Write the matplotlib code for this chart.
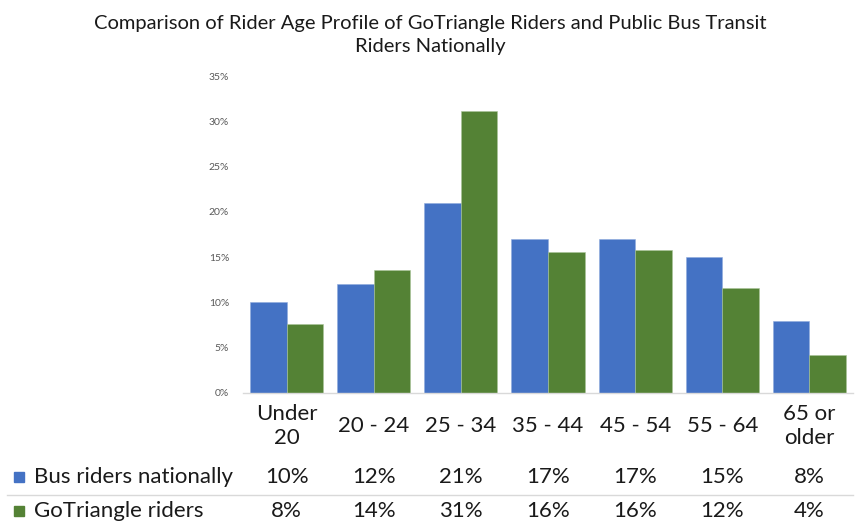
import matplotlib
matplotlib.use("Agg")
from matplotlib import pyplot as plt
from matplotlib.patches import Rectangle
from matplotlib.lines import Line2D
import numpy as np

# age groups and shares
categories = ["Under\n20", "20 - 24", "25 - 34", "35 - 44", "45 - 54", "55 - 64", "65 or\nolder"]
bus_national = [0.10, 0.12, 0.21, 0.17, 0.17, 0.15, 0.08]
gotriangle = [0.076, 0.136, 0.311, 0.156, 0.158, 0.116, 0.042]
series_names = ["Bus riders nationally", "GoTriangle riders"]
yticks = [0, 0.05, 0.10, 0.15, 0.20, 0.25, 0.30, 0.35]

blue = "#4472C4"
green = "#548235"
grey = "#D9D9D9"

plt.rcParams["font.family"] = ["Lato", "DejaVu Sans"]

fig = plt.figure(figsize=(8.61, 5.25), dpi=100)
ax = fig.add_axes([243 / 861, 1 - 393 / 525, 610 / 861, 317 / 525])

x = np.arange(len(categories))
w = 0.42
ax.bar(x - w / 2, bus_national, w, color=blue, edgecolor="#8FAADC", linewidth=0.4)
ax.bar(x + w / 2, gotriangle, w, color=green, edgecolor="#A9C59A", linewidth=0.4)

ax.set_xlim(-0.5, len(categories) - 0.5)
ax.set_ylim(0, 0.35)
ax.set_yticks(yticks)
ax.set_yticklabels([f"{int(round(t * 100))}%" for t in yticks], fontsize=7.5, color="#595959")
ax.tick_params(axis="y", length=0, pad=10)
ax.set_xticks([])
for s in ["top", "right", "left"]:
    ax.spines[s].set_visible(False)
ax.spines["bottom"].set_color(grey)
ax.spines["bottom"].set_linewidth(1)

fs = 16

# category labels and data table under the plot
tr = ax.get_xaxis_transform()
for i, c in enumerate(categories):
    ax.text(i, -0.103, c, transform=tr, ha="center", va="center", fontsize=fs,
            color="#1a1a1a", linespacing=1.25)
    ax.text(i, -0.265, f"{bus_national[i] * 100:.0f}%", transform=tr, ha="center",
            va="center", fontsize=fs, color="#1a1a1a")
    ax.text(i, -0.372, f"{gotriangle[i] * 100:.0f}%", transform=tr, ha="center",
            va="center", fontsize=fs, color="#1a1a1a")

for row_y, name, col in [(477, series_names[0], blue), (511, series_names[1], green)]:
    fy = 1 - row_y / 525
    fig.patches.append(Rectangle((14 / 861, fy - 5 / 525), 10 / 861, 10 / 525,
                                 transform=fig.transFigure, color=col))
    fig.text(34 / 861, fy, name, ha="left", va="center", fontsize=fs, color="#1a1a1a")

fig.add_artist(Line2D([7 / 861, 853 / 861], [1 - 495 / 525] * 2, transform=fig.transFigure,
                      color=grey, linewidth=1))

fig.text(430 / 861, 1 - 35 / 525,
         "Comparison of Rider Age Profile of GoTriangle Riders and Public Bus Transit\nRiders Nationally",
         ha="center", va="center", fontsize=14.5, color="#1a1a1a", linespacing=1.45)

fig.savefig("out.png", dpi=100, facecolor="white")
